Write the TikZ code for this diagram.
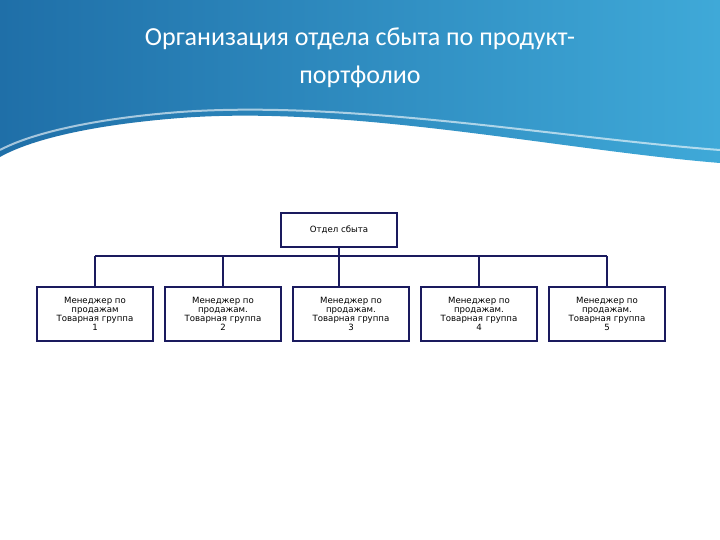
\documentclass[tikz,border=0pt]{standalone}
\usepackage{fontspec}
\setmainfont{Carlito}
\newfontfamily\boxfont{DejaVu Sans}
\definecolor{navy}{HTML}{1A1A5E}
\definecolor{bandA}{HTML}{1F6FA8}
\definecolor{bandB}{HTML}{3FA9D8}
\begin{document}
\begin{tikzpicture}[x=1pt,y=-1pt,
  box/.style={draw=navy,line width=1.6pt,fill=white,minimum width=116pt,minimum height=54pt,align=center,font=\boxfont\fontsize{8.6}{9.2}\selectfont,inner sep=1pt,anchor=north},
  topbox/.style={box,minimum height=34pt},
  link/.style={draw=navy,line width=1.3pt}]
\useasboundingbox (0,0) rectangle (720,540);
\fill[white] (0,0) rectangle (720,540);
\shade[left color=bandA,right color=bandB] (0,0) -- (720,0) -- (720,163)
  .. controls (560,150) and (350,105) .. (180,118) .. controls (90,125) and (30,140) .. (0,157) -- cycle;
\draw[white,line width=2pt,opacity=0.6] (720,150) .. controls (560,138) and (350,100) .. (180,112) .. controls (90,119) and (30,134) .. (0,150);
\node[text=white,font=\fontsize{26}{38}\selectfont,align=center] (title) at (360,58) {Организация отдела сбыта по продукт-\\портфолио};
\node[topbox,minimum height=34pt] (top) at (339,212) {Отдел сбыта};
\node[box] (b1) at (95,286) {Менеджер по\\продажам\\Товарная группа\\1};
\node[box] (b2) at (223,286) {Менеджер по\\продажам.\\Товарная группа\\2};
\node[box] (b3) at (351,286) {Менеджер по\\продажам.\\Товарная группа\\3};
\node[box] (b4) at (479,286) {Менеджер по\\продажам.\\Товарная группа\\4};
\node[box] (b5) at (607,286) {Менеджер по\\продажам.\\Товарная группа\\5};
\coordinate (hl) at (95,256);
\coordinate (hr) at (607,256);
\path[link] (hl) -- (hr);
\path[link] (top.south) -- (b3.north -| top.south);
\foreach \b in {b1,b2,b4,b5} \path[link] (\b.north) -- (\b.north |- hl);
\end{tikzpicture}
\end{document}
